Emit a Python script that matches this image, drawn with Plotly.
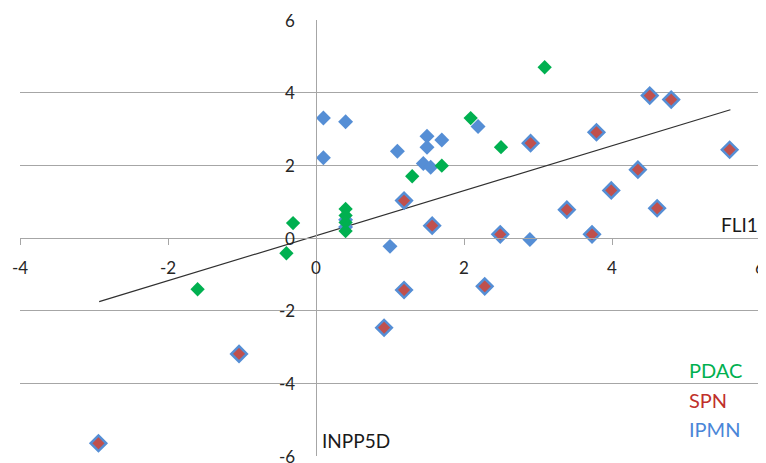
import plotly.graph_objects as go

# ---- data ----
ipmn_x = [0.10, 0.40, 0.10, 1.10, 1.50, 1.70, 1.50, 1.45, 1.55, 2.19, 1.00, 2.89, 0.40, 0.40]
ipmn_y = [3.30, 3.20, 2.21, 2.39, 2.80, 2.70, 2.50, 2.05, 1.95, 3.07, -0.23, -0.04, 0.50, 0.30]

spn_x = [-2.94, -1.04, 0.92, 1.19, 1.19, 1.57, 2.28, 2.49, 2.90, 3.39, 3.73, 3.79, 3.99, 4.35, 4.51, 4.61, 4.80, 5.59]
spn_y = [-5.65, -3.19, -2.47, 1.03, -1.43, 0.34, -1.33, 0.10, 2.61, 0.78, 0.10, 2.91, 1.31, 1.88, 3.92, 0.82, 3.81, 2.43]

pdac_x = [-1.60, -0.40, -0.31, 0.40, 0.40, 0.40, 0.40, 1.30, 1.70, 2.09, 2.50, 3.09]
pdac_y = [-1.41, -0.42, 0.41, 0.80, 0.62, 0.43, 0.19, 1.70, 1.99, 3.30, 2.50, 4.70]

trend_x = [-2.93, 5.60]
trend_slope = 0.619
trend_intercept = 0.064

x_ticks = [-4, -2, 0, 2, 4, 6]
x_tick_labels = ["-4", "-2", "0", "2", "4", "6"]
y_ticks = [-6, -4, -2, 0, 2, 4, 6]
y_tick_labels = ["-6", "-4", "-2", "0", "2", "4", "6"]

legend_names = ["PDAC", "SPN", "IPMN"]
legend_y = [-3.62, -4.46, -5.27]
# ---------------------------------------

BLUE = "#558ED5"
RED = "#C0504D"
GREEN = "#00B050"
FONT = "Lato"
TICK_FONT = dict(family=FONT, size=17, color="#262626")

trend_y = [trend_slope * v + trend_intercept for v in trend_x]

fig = go.Figure()
fig.add_trace(go.Scatter(x=trend_x, y=trend_y, mode="lines",
                         line=dict(color="#303030", width=1.2), hoverinfo="skip"))
fig.add_trace(go.Scatter(x=ipmn_x, y=ipmn_y, mode="markers", name="IPMN",
                         marker=dict(symbol="diamond", size=11.5, color=BLUE,
                                     line=dict(width=0))))
fig.add_trace(go.Scatter(x=spn_x, y=spn_y, mode="markers", name="SPN",
                         marker=dict(symbol="diamond", size=12, color=RED,
                                     line=dict(width=2.5, color=BLUE))))
fig.add_trace(go.Scatter(x=pdac_x, y=pdac_y, mode="markers", name="PDAC",
                         marker=dict(symbol="diamond", size=11, color=GREEN,
                                     line=dict(width=0))))

annotations = []
# tick labels (axes cross at the origin)
for v, t in zip(x_ticks, x_tick_labels):
    annotations.append(dict(x=v, y=0, xref="x", yref="y", text=t, showarrow=False,
                            xanchor="center", yanchor="middle", yshift=-29,
                            font=TICK_FONT))
for v, t in zip(y_ticks, y_tick_labels):
    annotations.append(dict(x=0, y=v, xref="x", yref="y", text=t, showarrow=False,
                            xanchor="right", yanchor="middle", xshift=-19,
                            font=TICK_FONT))

legend_colors = [GREEN, "#C0302B", "#4A86D8"]
for name, yy, col in zip(legend_names, legend_y, legend_colors):
    annotations.append(dict(x=5.01, y=yy, xref="x", yref="y", text=name,
                            showarrow=False, xanchor="left", yanchor="middle",
                            font=dict(family=FONT, size=20, color=col)))
annotations.append(dict(x=6, y=0.38, xref="x", yref="y", text="FLI1",
                        showarrow=False, xanchor="right", yanchor="middle",
                        font=dict(family=FONT, size=19, color="#1a1a1a")))
annotations.append(dict(x=0.06, y=-5.57, xref="x", yref="y", text="INPP5D",
                        showarrow=False, xanchor="left", yanchor="middle",
                        font=dict(family=FONT, size=19, color="#1a1a1a")))

# the page body adds an 8px offset, so the figure is sized to fit the window
fig.update_layout(
    width=758, height=455,
    margin=dict(l=12, r=6, t=12, b=7),
    paper_bgcolor="white", plot_bgcolor="white",
    showlegend=False,
    font=dict(family=FONT, size=17, color="#262626"),
    annotations=annotations,
    xaxis=dict(range=[-4, 6], tickvals=x_ticks, showticklabels=False,
               showgrid=False, zeroline=False, automargin=False,
               showline=True, linecolor="#A6A6A6", linewidth=1.3,
               ticks="outside", ticklen=6, tickcolor="#A6A6A6", tickwidth=1,
               anchor="free", position=0.5),
    yaxis=dict(range=[-6, 6], tickvals=y_ticks, showticklabels=False,
               showgrid=True, gridcolor="#A6A6A6", gridwidth=1.3,
               zeroline=False, showline=True, linecolor="#A6A6A6", linewidth=1.3,
               automargin=False, ticks="", anchor="free", position=0.4),
)

fig.write_html("out.html")
